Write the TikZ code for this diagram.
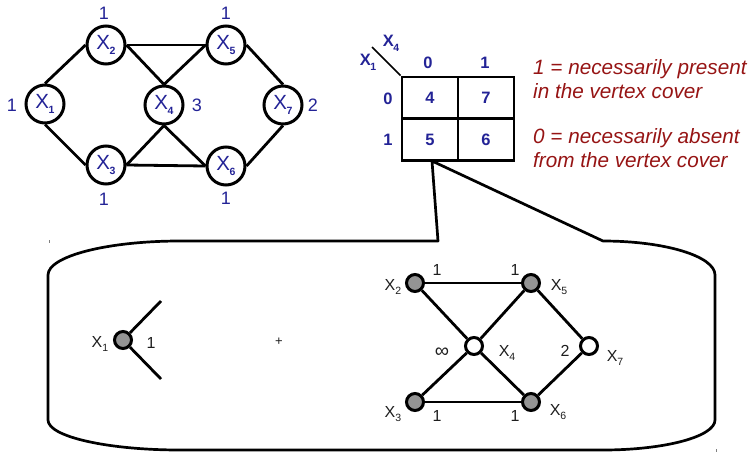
\documentclass[tikz,border=0pt]{standalone}
\usepackage{fontspec}
\setmainfont{Liberation Sans}
\definecolor{vblue}{RGB}{35,35,150}
\definecolor{vred}{RGB}{150,20,20}
\definecolor{vtext}{RGB}{30,30,30}
\newcommand\Xtop[1]{X\kern-0.5pt\raisebox{-5pt}{\fontsize{10.5}{10.5}\selectfont\bfseries #1}}
\newcommand\Xlow[1]{X\raisebox{-4.5pt}{\fontsize{10.5}{10.5}\selectfont #1}}
\begin{document}
\begin{tikzpicture}[x=1pt,y=-1pt,
  topnode/.style={circle,draw,line width=3pt,minimum size=38pt,inner sep=0pt,
     text=vblue,font=\fontsize{20.5}{21}\selectfont},
  toplab/.style={text=vblue,font=\fontsize{18}{19}\selectfont,inner sep=0pt},
  edge/.style={line width=2.8pt},
  cell/.style={draw,line width=2.8pt,minimum width=56pt,minimum height=42pt,inner sep=0pt,
     text=vblue,font=\fontsize{16.5}{17}\selectfont\bfseries},
  hdr/.style={text=vblue,font=\fontsize{16.5}{17}\selectfont\bfseries,inner sep=0pt},
  note/.style={text=vred,font=\fontsize{20.7}{22}\selectfont\itshape,anchor=base west,inner sep=0pt},
  dot/.style={circle,draw,line width=3pt,minimum size=17pt,inner sep=0pt},
  full/.style={dot,fill=gray!95!black!80},
  empty/.style={dot,fill=white},
  lowlab/.style={text=vtext,font=\fontsize{16}{17}\selectfont,inner sep=0pt}
]
\useasboundingbox (0,0) rectangle (752,453);

% ---------- top graph ----------
\node[topnode] (t1) at (45,104) {\Xtop{1}};
\node[topnode] (t2) at (106,45) {\Xtop{2}};
\node[topnode] (t3) at (106,165) {\Xtop{3}};
\node[topnode] (t4) at (164,105) {\Xtop{4}};
\node[topnode] (t5) at (226,45) {\Xtop{5}};
\node[topnode] (t6) at (226,166) {\Xtop{6}};
\node[topnode] (t7) at (283,105) {\Xtop{7}};
\draw[edge] (t1.north) -- (t2.west);
\draw[edge] (t1.south) -- (t3.west);
\draw[edge] (t2.east) -- (t5.west);
\draw[edge] (t2.east) -- (t4.north);
\draw[edge] (t4.north) -- (t5.west);
\draw[edge] (t5.east) -- (t7.north);
\draw[edge] (t3.east) -- (t4.south);
\draw[edge] (t3.east) -- (t6.west);
\draw[edge] (t4.south) -- (t6.west);
\draw[edge] (t6.east) -- (t7.south);
\node[toplab] (w2) at (104,13) {1};
\node[toplab] (w5) at (226,13) {1};
\node[toplab] (w1) at (12,105) {1};
\node[toplab] (w4) at (197,105) {3};
\node[toplab] (w7) at (313,105) {2};
\node[toplab] (w3) at (104,199) {1};
\node[toplab] (w6) at (226,198) {1};

% ---------- table ----------
\node[cell] (c00) at (430,98) {4};
\node[cell] (c01) at (486,98) {7};
\node[cell] (c10) at (430,139.5) {5};
\node[cell] (c11) at (486,139.5) {6};
\coordinate (diag) at (372,47);
\draw[line width=1.6pt] (diag) -- (c00.north west);
\node[hdr] (hx4) at (391,43) {\Xtop{4}};
\node[hdr] (hx1) at (368,62) {\Xtop{1}};
\node[hdr] (h0c) at (428,63) {0};
\node[hdr] (h1c) at (485,63) {1};
\node[hdr] (h0r) at (388,99) {0};
\node[hdr] (h1r) at (388,140) {1};

\node[note] (n1) at (533,74) {1 = necessarily present};
\node[note] (n2) at (533,98) {in the vertex cover};
\node[note] (n3) at (533,143) {0 = necessarily absent};
\node[note] (n4) at (533,167) {from the vertex cover};

% ---------- callout box ----------
\coordinate (apex) at (432,161);
\draw[line width=2.7pt,line join=round]
  (48,275) -- (48,420)
  .. controls (48,436.6) and (107.1,450) .. (180,450)
  -- (603,450)
  .. controls (664.9,450) and (715,436.6) .. (715,420)
  -- (715,275)
  .. controls (715,256.2) and (664.9,241) .. (603,241)
  -- (apex) -- (438,241) -- (180,241)
  .. controls (107.1,241) and (48,256.2) .. (48,275) -- cycle;
\draw[line width=0.6pt,gray] (49,240) -- (49,243);
\draw[line width=0.6pt,gray] (716,449) -- (716,452);

% ---------- lower left ----------
\node[full] (l1) at (123,340) {};
\coordinate (e1) at (161,301);
\coordinate (e2) at (161,379);
\draw[edge] (l1) -- (e1);
\draw[edge] (l1) -- (e2);
\node[lowlab] (ll1) at (100,344) {\Xlow{1}};
\node[lowlab] (lw1) at (151,343) {1};
\node[text=vtext,font=\fontsize{13}{14}\selectfont,inner sep=0pt] (plus) at (279,342) {+};

% ---------- lower right graph ----------
\node[full] (b2) at (415,283) {};
\node[full] (b5) at (531,283) {};
\node[empty] (b4) at (474,346) {};
\node[empty] (b7) at (589,346) {};
\node[full] (b3) at (415,402) {};
\node[full] (b6) at (531,402) {};
\draw[edge] (b2) -- (b5);
\draw[edge] (b2) -- (b4);
\draw[edge] (b4) -- (b5);
\draw[edge] (b5) -- (b7);
\draw[edge] (b3) -- (b4);
\draw[edge] (b4) -- (b6);
\draw[edge] (b3) -- (b6);
\draw[edge] (b6) -- (b7);
\node[lowlab] (lb2) at (393,287) {\Xlow{2}};
\node[lowlab] (lb5) at (559,287) {\Xlow{5}};
\node[lowlab] (lb4) at (507,353) {\Xlow{4}};
\node[lowlab] (lb7) at (615,358) {\Xlow{7}};
\node[lowlab] (lb3) at (393,414) {\Xlow{3}};
\node[lowlab] (lb6) at (558,412) {\Xlow{6}};
\node[lowlab] (v25) at (437,270) {1};
\node[lowlab] (v52) at (515,270) {1};
\node[lowlab] (v36) at (437,416) {1};
\node[lowlab] (v63) at (515,416) {1};
\node[lowlab,font=\fontsize{20}{21}\selectfont] (vinf) at (442,353) {∞};
\node[lowlab] (v7) at (565,351) {2};
\end{tikzpicture}
\end{document}
